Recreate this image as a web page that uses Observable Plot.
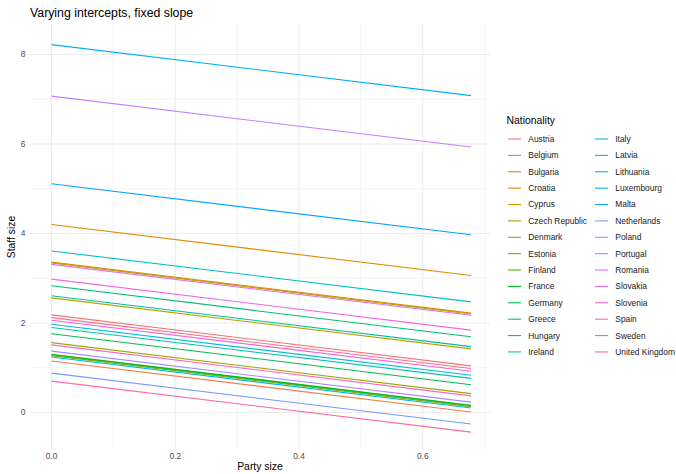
<!DOCTYPE html>
<html>
<head>
<meta charset="utf-8">
<script src="https://cdn.jsdelivr.net/npm/d3@7"></script>
<script src="https://cdn.jsdelivr.net/npm/@observablehq/plot@0.6"></script>
<style>
  body { margin: 0; background: #fff; }
  #wrap { position: relative; width: 676px; height: 474px; font-family: "Liberation Sans", Arial, sans-serif; overflow: hidden; }
  #wrap > * { position: absolute; }
  .title { left: 30px; top: 7px; font-size: 12.3px; line-height: 1; color: #000; white-space: nowrap; }
  .xtitle { left: 0; width: 520px; text-align: center; top: 462px; font-size: 10.4px; line-height: 1; color: #000; }
  .ytitle { left: 12px; top: 237px; font-size: 10.4px; line-height: 1; color: #000; transform: translate(-50%, -50%) rotate(-90deg); white-space: nowrap; }
</style>
</head>
<body>
<div id="wrap"></div>
<script>
// ---- data ----
const countries = ["Austria","Belgium","Bulgaria","Croatia","Cyprus","Czech Republic","Denmark","Estonia","Finland","France","Germany","Greece","Hungary","Ireland","Italy","Latvia","Lithuania","Luxembourg","Malta","Netherlands","Poland","Portugal","Romania","Slovakia","Slovenia","Spain","Sweden","United Kingdom"];
const intercepts = [2.18, 1.15, 4.20, 3.36, 3.34, 2.56, 1.56, 1.27, 1.29, 1.30, 1.76, 2.83, 2.61, 1.90, 3.61, 1.97, 1.24, 8.22, 5.11, 0.88, 1.37, 7.07, 3.31, 2.98, 2.06, 1.51, 0.70, 2.12];
const slope = -1.68;          // fixed slope
const partyMin = 0, partyMax = 0.678;  // range of party size
const xTicks = [0, 0.2, 0.4, 0.6];
const xMinor = [0.1, 0.3, 0.5, 0.7];
const yTicks = [0, 2, 4, 6, 8];
const yMinor = [1, 3, 5, 7];

// ggplot2 hue palette (polar LUV, c=100, l=65)
function hclHex(h, c, l) {
  const hr = h * Math.PI / 180, U = c * Math.cos(hr), V = c * Math.sin(hr);
  const Xn = 95.047, Yn = 100, Zn = 108.883;
  const den = Xn + 15 * Yn + 3 * Zn, un = 4 * Xn / den, vn = 9 * Yn / den;
  const Y = Yn * (l > 7.999592 ? Math.pow((l + 16) / 116, 3) : l / 903.3);
  const u = U / (13 * l) + un, v = V / (13 * l) + vn;
  const X = 9 * Y * u / (4 * v), Z = -X / 3 - 5 * Y + 3 * Y / v;
  const x = X / 100, y = Y / 100, z = Z / 100;
  const lin = [3.240479 * x - 1.537150 * y - 0.498535 * z,
              -0.969256 * x + 1.875992 * y + 0.041556 * z,
               0.055648 * x - 0.204043 * y + 1.057311 * z];
  return "#" + lin.map(t => {
    let g = t <= 0.0031308 ? 12.92 * t : 1.055 * Math.pow(t, 1 / 2.4) - 0.055;
    g = Math.max(0, Math.min(1, g));
    return Math.round(g * 255).toString(16).padStart(2, "0");
  }).join("");
}
const n = countries.length;
const colors = countries.map((_, i) => hclHex(15 + i * 360 / n, 100, 65));

const rows = countries.map((c, i) => ({country: c, a: intercepts[i]}));

const plot = Plot.plot({
  width: 676, height: 474,
  marginLeft: 30, marginRight: 186, marginTop: 24, marginBottom: 24,
  style: {fontFamily: '"Liberation Sans", Arial, sans-serif', color: "#4D4D4D", background: "transparent"},
  x: {domain: [-0.0339, 0.7095]},
  y: {domain: [-0.850, 8.670]},
  color: {domain: countries, range: colors},
  marks: [
    Plot.gridX(xMinor, {stroke: "#EBEBEB", strokeOpacity: 1, strokeWidth: 0.55}),
    Plot.gridY(yMinor, {stroke: "#EBEBEB", strokeOpacity: 1, strokeWidth: 0.55}),
    Plot.gridX(xTicks, {stroke: "#EBEBEB", strokeOpacity: 1, strokeWidth: 1.1}),
    Plot.gridY(yTicks, {stroke: "#EBEBEB", strokeOpacity: 1, strokeWidth: 1.1}),
    Plot.link(rows, {
      x1: () => partyMin, x2: () => partyMax,
      y1: d => d.a, y2: d => d.a + slope * (partyMax - partyMin),
      stroke: "country", strokeWidth: 1.1
    }),
    Plot.axisX(xTicks, {tickSize: 0, tickPadding: 3, fontSize: 8.4, tickFormat: d => d.toFixed(1), label: null}),
    Plot.axisY(yTicks, {tickSize: 0, tickPadding: 5, fontSize: 8.4, tickFormat: d => String(d), label: null})
  ]
});

const wrap = document.getElementById("wrap");
plot.style.left = "0px"; plot.style.top = "0px";
wrap.appendChild(plot);

const t = document.createElement("div"); t.className = "title"; t.textContent = "Varying intercepts, fixed slope"; wrap.appendChild(t);
const xt = document.createElement("div"); xt.className = "xtitle"; xt.textContent = "Party size"; wrap.appendChild(xt);
const yt = document.createElement("div"); yt.className = "ytitle"; yt.textContent = "Staff size"; wrap.appendChild(yt);

// legend
const leg = d3.select(wrap).append("svg")
  .attr("width", 676).attr("height", 474)
  .style("left", "0px").style("top", "0px")
  .style("font-family", '"Liberation Sans", Arial, sans-serif');
leg.append("text").attr("x", 506.5).attr("y", 120.7).attr("dy", "0.35em")
  .attr("font-size", 10.4).attr("fill", "#000").text("Nationality");
const perCol = 14;
countries.forEach((c, i) => {
  const col = Math.floor(i / perCol), row = i % perCol;
  const y = 139 + row * 16.38;
  const x0 = 508 + col * 87;
  leg.append("line").attr("x1", x0).attr("x2", x0 + 13).attr("y1", y).attr("y2", y)
    .attr("stroke", colors[i]).attr("stroke-width", 1.1);
  leg.append("text").attr("x", x0 + 20.3).attr("y", y).attr("dy", "0.35em")
    .attr("font-size", 8.4).attr("fill", "#1a1a1a").text(c);
});
</script>
</body>
</html>
